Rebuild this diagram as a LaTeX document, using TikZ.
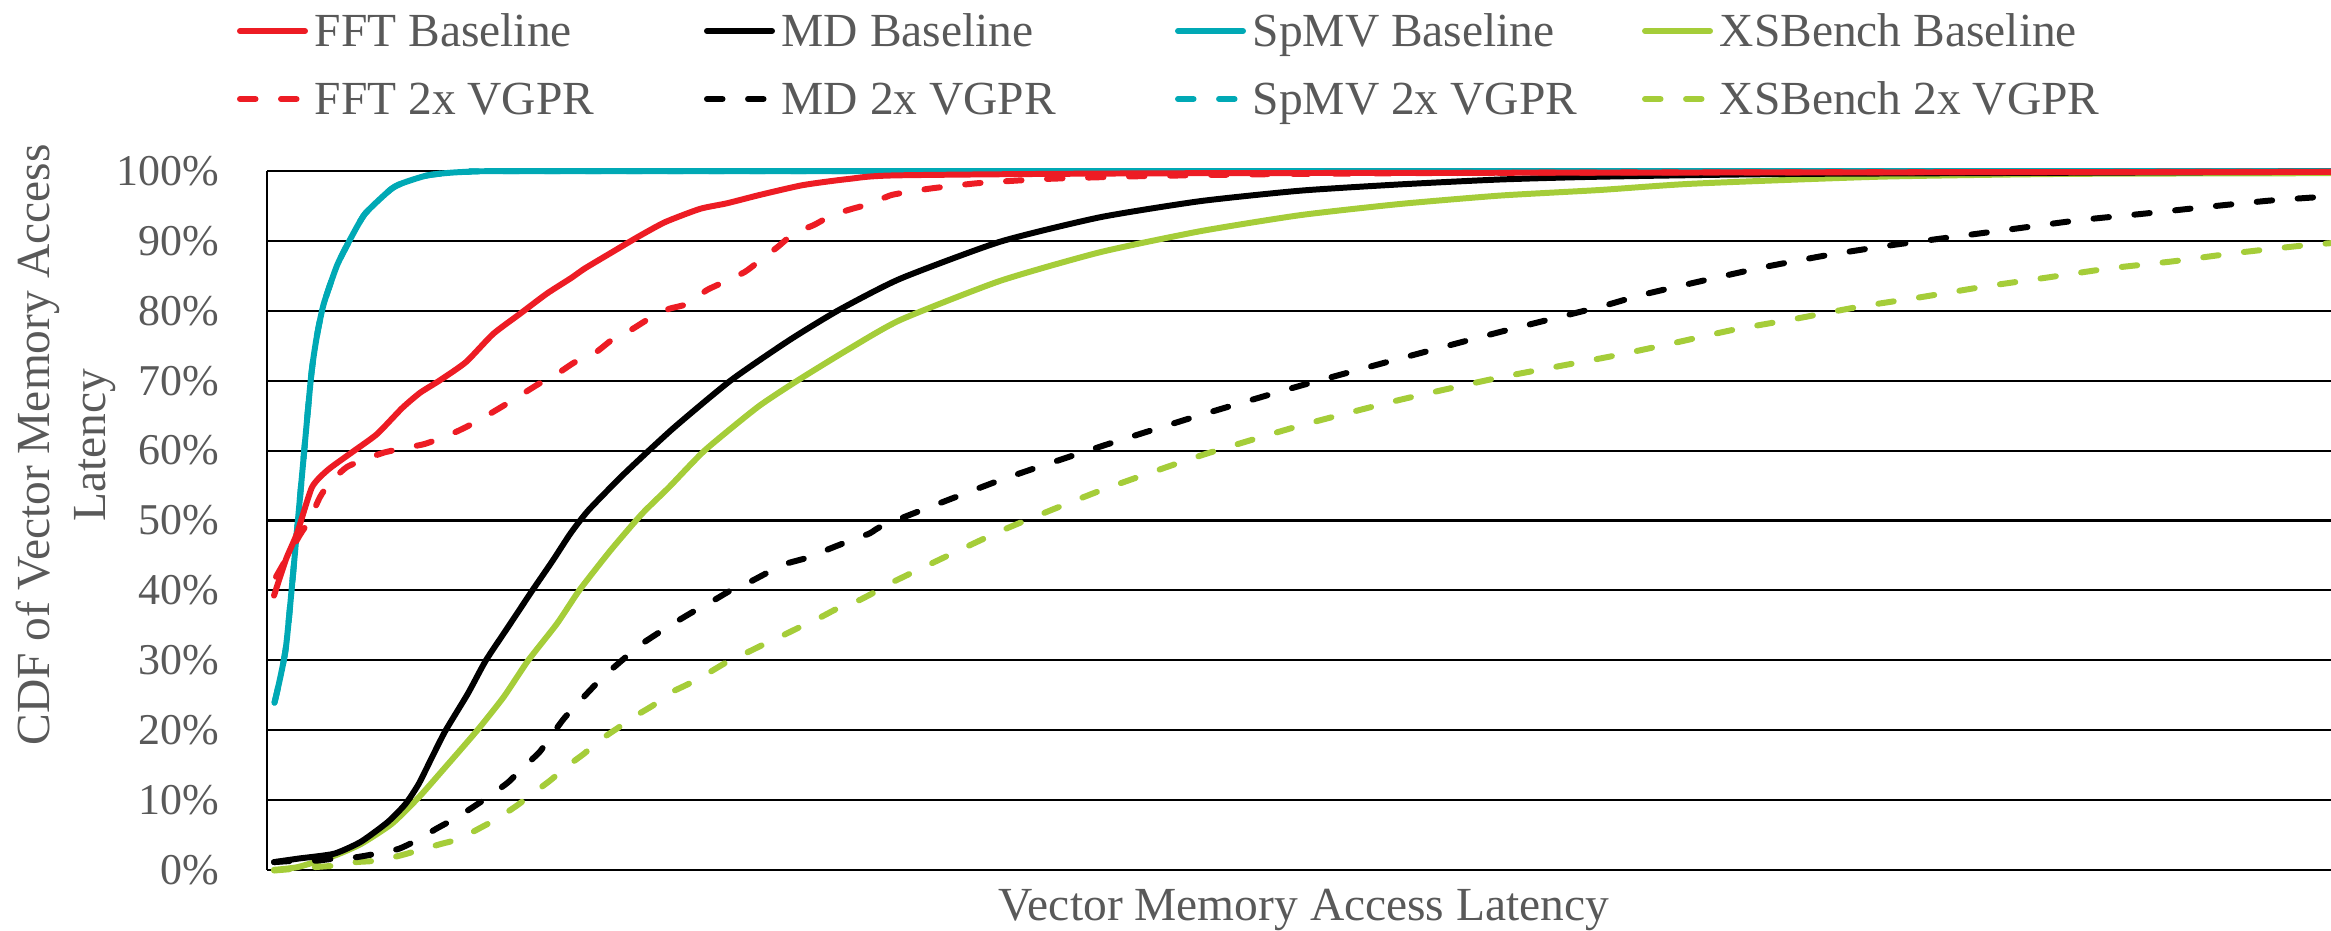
\documentclass[tikz,border=0pt]{standalone}
\usepackage{fontspec}
\setmainfont{Liberation Serif}
\definecolor{fftred}{HTML}{ED1C24}
\definecolor{spteal}{HTML}{00A9B5}
\definecolor{xsgreen}{HTML}{A5CD39}
\definecolor{labelgray}{HTML}{595959}
\tikzset{
  curve/.style={line width=1.7pt, line join=round, line cap=round},
  dashcurve/.style={curve, dash pattern=on 0.155cm off 0.255cm},
  gridline/.style={line width=0.6pt, black},
  ticklabel/.style={anchor=east, inner sep=0pt, text=labelgray, font=\fontsize{12.5}{15}\selectfont},
  axislabel/.style={anchor=base, inner sep=0pt, text=labelgray, font=\fontsize{13.5}{16}\selectfont},
  legendtext/.style={anchor=base west, inner sep=0pt, text=labelgray, font=\fontsize{13.5}{16}\selectfont},
}
\begin{document}
\begin{tikzpicture}[x=0.01cm, y=-0.01cm]
\useasboundingbox (0,0) rectangle (2331,930);

% horizontal gridlines with their percentage labels, and the vertical axis
\foreach \p in {0,10,...,100} {
  \draw[gridline] (267,{870-6.99*\p}) -- (2331,{870-6.99*\p});
  \node[ticklabel] (t\p) at (220,{870-6.99*\p}) {\p\%};
}
\draw[gridline] (267,171) -- (267,870);

% axis titles
\node[axislabel, rotate=90] (ylab1) at (49,445) {CDF of Vector Memory Access};
\node[axislabel, rotate=90] (ylab2) at (105,445) {Latency};
\node[axislabel] (xlab) at (1304,920) {Vector Memory Access Latency};

% legend: solid samples on the first row, dashed samples on the second
\foreach \x/\c/\t [count=\i] in {237/fftred/FFT, 704/black/MD, 1175/spteal/SpMV, 1642/xsgreen/XSBench} {
  \draw[curve, \c] (\x+3,31) -- (\x+68,31);
  \node[legendtext] (lb\i) at (\x+77,46) {\t{} Baseline};
  \draw[dashcurve, \c] (\x+3,99) -- (\x+68,99);
  \node[legendtext] (lv\i) at (\x+77,114) {\t{} 2x VGPR};
}

% data series: x in pixels, y in percent
\begin{scope}[shift={(0cm,-8.70cm)}, x=0.01cm, y=0.0699cm]
% SpMV 2x VGPR (lies under the baseline)
\draw[dashcurve, spteal] plot[smooth, tension=0.35] coordinates {
 (274.5,24) (286,32) (298.5,51) (311,70.5) (317,76.5) (323.7,81) (337,86.5)
 (350,90.2) (365,93.9) (390,97.3) (401,98.2) (428,99.4) (468,99.9) (600,100) (2331,100)};
% SpMV baseline
\draw[curve, spteal] plot[smooth, tension=0.35] coordinates {
 (274.5,24) (286,32) (298.5,51) (311,70.5) (317,76.5) (323.7,81) (337,86.5)
 (350,90.2) (365,93.9) (390,97.3) (401,98.2) (428,99.4) (468,99.9) (600,100) (2331,100)};
% XSBench baseline
\draw[curve, xsgreen] plot[smooth, tension=0.35] coordinates {
 (274,0.1) (298,0.5) (334,2.1) (361,3.8) (392,6.7) (419,10.5) (445.5,14.8)
 (477,20) (503.6,24.8) (528,30) (557,35.3) (579.5,40.1) (610.7,45.8) (642,51)
 (669,54.8) (705,60.1) (758,66.3) (798,70.1) (847,74.4) (900,78.7)
 (1000,84.3) (1100,88.4) (1200,91.4) (1300,93.7) (1400,95.3) (1500,96.5)
 (1600,97.3) (1693,98.2) (1880,99.2) (2066,99.6) (2331,99.7)};
% MD baseline
\draw[curve, black] plot[smooth, tension=0.35] coordinates {
 (274,1.2) (298,1.7) (334,2.4) (360.7,4.1) (387.5,6.9) (405.4,9.5) (418.8,12.4)
 (432,16.2) (445.5,20) (467.9,25.3) (485.7,30) (508,34.8) (532.6,40.1)
 (552.7,44.3) (570.5,48.2) (588.4,51.5) (624,56.7) (673,63.2) (731,70.1)
 (789,75.8) (838.4,80.1) (900,84.6) (1000,89.9) (1100,93.4) (1200,95.7)
 (1300,97.2) (1400,98.1) (1500,98.8) (1600,99.2) (1800,99.6) (2331,99.9)};
% FFT baseline
\draw[curve, fftred] plot[smooth, tension=0.35] coordinates {
 (274,39.3) (286,44.5) (297,48.2) (312,54.8) (328,57.3) (353,59.9) (377,62.4)
 (402,66.1) (420,68.3) (440,70.1) (466,72.7) (493,76.7) (520,79.6) (547,82.5)
 (571,84.7) (585,86.1) (612,88.4) (638,90.6) (665,92.7) (700,94.6) (727,95.4)
 (760,96.6) (803,98) (850,98.9) (900,99.4) (1200,99.7) (2331,99.9)};
% XSBench 2x VGPR
\draw[dashcurve, xsgreen] plot[smooth, tension=0.35] coordinates {
 (274,0) (316,0.5) (334,0.7) (356,1.2) (376,1.4) (399,2.1) (419,2.9) (441,3.8)
 (459,4.5) (479,6) (497,7.4) (517,9.3) (532.6,11) (550.4,12.9) (566,14.8)
 (584,16.7) (599.5,18.6) (617,20.3) (633,21.9) (653,23.6) (668.8,25.3)
 (688.8,26.7) (706.7,28.1) (726.8,29.8) (744.6,31) (764.7,32.4) (782.6,33.6)
 (802.7,35) (820.5,36.2) (840.6,37.7) (858.5,38.6) (878.6,40.1) (896.4,41.5)
 (1000,48.5) (1100,54.3) (1200,59.3) (1300,63.6) (1400,67.3) (1500,70.5)
 (1607,73.4) (1670,75.3) (1733,77.3) (1796,78.9) (1859,80.6) (1922,82)
 (1985,83.5) (2048,84.8) (2110,86.1) (2173,87.1) (2236,88.3) (2299,89.3) (2331,89.7)};
% MD 2x VGPR
\draw[dashcurve, black] plot[smooth, tension=0.35] coordinates {
 (274,1.2) (296,1.4) (316,1.4) (334,1.7) (356,1.9) (376,2.4) (398.7,3.1)
 (416.5,4.3) (436.6,6) (454.5,7.4) (472.3,9) (490,10.7) (508,12.6) (521.4,14.5)
 (539.3,16.9) (550.4,19.1) (563.8,21.7) (577.2,23.8) (592.9,26.2) (606.3,28.1)
 (624,30.3) (639.7,32.2) (657.6,33.9) (675.4,35.5) (695.5,37.2) (713.4,38.6)
 (731.3,40.1) (749,41.2) (769,42.7) (787,43.9) (809.4,44.8) (829.5,46)
 (847.3,47) (869.6,48.2) (887.5,49.6) (1000,55.8) (1100,60.6) (1200,65.1)
 (1300,69.3) (1400,73.2) (1500,77) (1600,80.6) (1642,82.3) (1705,84.4)
 (1765,86.3) (1828,88) (1891,89.4) (1954,90.6) (2017,91.8) (2080,93)
 (2143,93.9) (2208,94.9) (2271,95.8) (2331,96.4)};
% FFT 2x VGPR
\draw[dashcurve, fftred] plot[smooth, tension=0.35] coordinates {
 (276,42) (290,45.5) (300,48) (309,50) (320,53.4) (330,55.5) (347,57.7)
 (367,58.9) (385,59.8) (408,60.5) (425,61) (448,62.2) (466,63.4) (484,64.8)
 (504,66.5) (521,68) (539,69.6) (557,71) (575,72.7) (595,74) (613,76) (631,77.3)
 (649,78.9) (669,80.3) (687,81) (707,83) (725,84.2) (745,85.6) (758,87)
 (778,89.2) (794,91.1) (814,92.3) (832,93.7) (852,94.6) (872,95.4) (892,96.6)
 (930,97.5) (980,98.3) (1050,98.9) (1150,99.3) (1300,99.6) (1600,99.8) (2331,99.9)};
\end{scope}
\end{tikzpicture}
\end{document}
